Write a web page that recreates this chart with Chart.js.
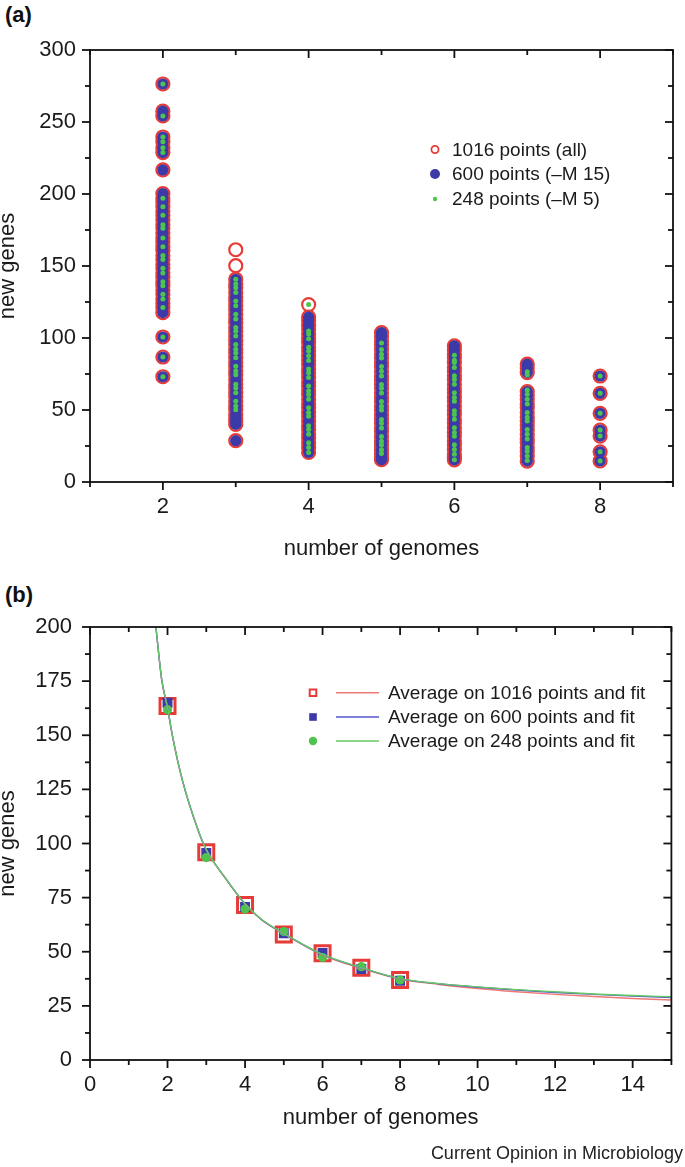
<!DOCTYPE html>
<html><head><meta charset="utf-8">
<script src="https://cdn.jsdelivr.net/npm/chart.js@4.4.1/dist/chart.umd.min.js"></script>
<style>
html,body{margin:0;padding:0;background:#fff;}
body{width:685px;height:1167px;position:relative;overflow:hidden;font-family:"Liberation Sans",Arial,sans-serif;}
canvas{position:absolute;left:0;}
#ca{top:0;}
#cb{top:580px;}
.lab{position:absolute;font-weight:bold;font-size:22px;color:#111;line-height:24px;}
#credit{position:absolute;right:2px;top:1142px;font-size:18px;color:#222;line-height:22px;}
</style></head><body>
<div class="lab" style="left:5px;top:3px">(a)</div>
<div class="lab" style="left:5px;top:583px">(b)</div>
<canvas id="ca" width="685" height="580"></canvas>
<canvas id="cb" width="685" height="587"></canvas>
<div id="credit">Current Opinion in Microbiology</div>
<script>
// ---------- panel (a) data ----------
const genomes = [2, 3, 4, 5, 6, 7, 8];
// new genes per comparison, 600-point subset (one list per genome count)
const new600 = [
  [276.4, 257.5, 254.2, 239.6, 236.3, 232.1, 228.8, 216.7, 200.3, 197.1, 194.6, 191.2, 188.0, 185.3, 182.1, 178.6, 176.2, 172.9, 169.5, 166.8, 163.4, 160.7, 157.3, 154.6, 151.2, 148.5, 145.1, 142.4, 139.0, 136.3, 133.1, 130.4, 127.0, 124.2, 121.1, 117.6, 100.7, 86.8, 73.1],
  [140.8, 137.5, 134.9, 131.6, 128.3, 125.7, 122.4, 119.8, 116.5, 113.2, 110.6, 107.3, 104.7, 101.4, 98.1, 95.5, 92.2, 89.6, 86.3, 83.0, 80.4, 77.1, 74.5, 71.2, 67.9, 65.3, 62.0, 59.4, 56.1, 52.8, 50.2, 46.9, 44.3, 42.0, 40.0, 28.7],
  [114.5, 111.9, 108.6, 106.0, 102.7, 99.4, 96.8, 93.5, 90.9, 87.6, 84.3, 81.7, 78.4, 75.8, 72.5, 69.2, 66.6, 63.3, 60.7, 57.4, 54.1, 51.5, 48.2, 45.6, 42.3, 39.0, 36.4, 33.1, 30.5, 27.2, 23.9, 20.5],
  [103.8, 101.2, 97.9, 95.3, 92.0, 88.7, 86.1, 82.8, 80.2, 76.9, 73.6, 71.0, 67.7, 65.1, 61.8, 58.5, 55.9, 52.6, 50.0, 46.7, 43.4, 40.8, 37.5, 34.9, 31.6, 28.3, 25.7, 22.4, 19.8, 17.4, 15.5],
  [94.6, 92.1, 88.8, 86.2, 82.9, 79.6, 77.0, 73.7, 71.1, 67.8, 64.5, 61.9, 58.6, 56.0, 52.7, 49.4, 46.8, 43.5, 40.9, 37.6, 34.3, 31.7, 28.4, 25.8, 22.5, 19.2, 17.0, 15.4],
  [81.8, 79.1, 76.0, 62.8, 60.2, 57.5, 54.2, 51.6, 48.3, 45.0, 42.4, 39.1, 36.5, 33.2, 29.9, 27.3, 24.0, 21.4, 18.1, 14.5],
  [73.6, 61.6, 47.7, 36.1, 31.9, 21.0, 14.6]
];
// points present only in the full 1016 set
const extra1016 = [[], [161.3, 150.2], [123.2], [], [], [], []];
// 248-point subset
const new248 = [
  [276.4, 254.2, 239.6, 236.3, 232.1, 228.8, 197.1, 191.2, 185.3, 178.6, 176.2, 169.5, 163.4, 157.3, 154.6, 148.5, 145.1, 139.0, 136.3, 130.4, 127.0, 121.1, 100.7, 86.8, 73.1],
  [140.8, 137.5, 134.9, 131.6, 125.7, 122.4, 116.5, 113.2, 107.3, 104.7, 101.4, 95.5, 92.2, 89.6, 86.3, 80.4, 77.1, 74.5, 67.9, 65.3, 62.0, 56.1, 52.8, 50.2],
  [123.2, 104.9, 102.7, 99.4, 93.5, 90.9, 87.6, 84.3, 78.4, 75.8, 72.5, 66.6, 63.3, 60.7, 57.4, 51.5, 48.2, 45.6, 39.0, 36.4, 33.1, 27.2, 23.9, 20.5],
  [96.5, 92.0, 88.7, 86.1, 80.2, 76.9, 73.6, 67.7, 65.1, 61.8, 55.9, 52.6, 50.0, 43.4, 40.8, 37.5, 31.6, 28.3, 25.7, 22.4, 19.8],
  [88.1, 84.6, 82.9, 79.6, 73.7, 71.1, 67.8, 61.9, 58.6, 56.0, 49.4, 46.8, 43.5, 37.6, 34.3, 31.7, 25.8, 22.5, 19.2, 15.4],
  [76.6, 74.3, 63.9, 61.0, 57.5, 54.2, 48.3, 45.0, 42.4, 36.5, 33.2, 29.9, 24.0, 21.4, 18.1, 14.9],
  [73.6, 61.6, 47.7, 36.1, 31.9, 21.0, 14.6]
];
const labelsA = ['1016 points (all)', '600 points (\u2013M 15)', '248 points (\u2013M 5)'];

// ---------- panel (b) data ----------
const avgX = [2, 3, 4, 5, 6, 7, 8];
const avg1016 = [163.5, 96.0, 71.6, 58.0, 49.3, 42.6, 37.0];
const avg600 = [165.0, 95.6, 70.7, 58.5, 49.4, 42.0, 36.6];
const avg248 = [161.8, 93.5, 69.7, 59.3, 47.3, 43.1, 37.0];
const fitX = [1.70, 1.85, 2, 2.13, 2.38, 2.79, 3, 3.49, 4, 4.43, 5, 6, 7, 8, 9, 10, 11, 12, 13, 14, 15];
const fit1016 = [200, 175.5, 162.5, 149.3, 129.3, 106.0, 97.0, 84.0, 72.0, 64.7, 58.3, 48.5, 42.3, 37.4, 34.9, 33.0, 31.5, 30.3, 29.3, 28.4, 27.7];
const fit600 = [200, 175.7, 162.7, 149.5, 129.5, 106.1, 97.1, 84.1, 72.1, 64.8, 58.4, 48.7, 42.6, 37.5, 35.2, 33.6, 32.3, 31.2, 30.3, 29.5, 28.9];
const fit248 = [200, 175.9, 162.9, 149.6, 129.6, 106.2, 97.2, 84.2, 72.2, 64.9, 58.5, 48.8, 42.7, 37.6, 35.3, 33.8, 32.5, 31.5, 30.5, 29.8, 29.2];
const labelsB = ['Average on 1016 points and fit', 'Average on 600 points and fit', 'Average on 248 points and fit'];

// ---------- styles ----------
const RED = '#e63b37', BLUE = '#3b3aa8', GREEN = '#4ec44e';
const LRED = '#ee7a76', LBLUE = '#5656cc', LGREEN = '#66c866';
const FONT = '"Liberation Sans", Arial, Helvetica, sans-serif';

function colPoints(cols) {
  const out = [];
  cols.forEach((vals, i) => vals.forEach(v => out.push({x: genomes[i], y: v})));
  return out;
}
function xyPoints(xs, ys) { return xs.map((x, i) => ({x: x, y: ys[i]})); }
const all1016 = new600.map((c, i) => c.concat(extra1016[i]));

// frame with tick marks (outward on bottom/left, inward on top/right)
function frameTicks(xMinor, xMajor, yMinor, yMajor) {
  return {
    id: 'frameTicks',
    afterDraw(chart) {
      const {ctx, chartArea: a, scales: {x, y}} = chart;
      ctx.save();
      ctx.strokeStyle = '#111';
      ctx.lineWidth = 1.8;
      ctx.strokeRect(a.left, a.top, a.right - a.left, a.bottom - a.top);
      const seg = (x1, y1, x2, y2) => { ctx.beginPath(); ctx.moveTo(x1, y1); ctx.lineTo(x2, y2); ctx.stroke(); };
      const isMajor = (v, m) => Math.abs(v / m - Math.round(v / m)) < 1e-6;
      const nx = Math.round((x.max - x.min) / xMinor);
      for (let i = 0; i <= nx; i++) {
        const v = x.min + i * xMinor;
        const px = x.getPixelForValue(v);
        const L = isMajor(v, xMajor) ? 8 : 5;
        seg(px, a.bottom, px, a.bottom + L);
        seg(px, a.top, px, a.top + L);
      }
      const ny = Math.round((y.max - y.min) / yMinor);
      for (let i = 0; i <= ny; i++) {
        const v = y.min + i * yMinor;
        const py = y.getPixelForValue(v);
        const L = isMajor(v, yMajor) ? 8 : 5;
        seg(a.left - L, py, a.left, py);
        seg(a.right - L, py, a.right, py);
      }
      ctx.restore();
    }
  };
}

// legend drawn inside the plot area
function insideLegend(cfg) {
  return {
    id: 'insideLegend',
    afterDraw(chart) {
      const ctx = chart.ctx;
      ctx.save();
      ctx.font = cfg.fontSize + 'px ' + FONT;
      ctx.textBaseline = 'middle';
      ctx.textAlign = 'left';
      cfg.items.forEach((it, i) => {
        const y = cfg.rows[i];
        const sx = cfg.symbolX;
        ctx.beginPath();
        if (it.shape === 'circle') ctx.arc(sx, y, it.r, 0, Math.PI * 2);
        else ctx.rect(sx - it.r, y - it.r, it.r * 2, it.r * 2);
        ctx.fillStyle = it.fill ? it.fill : '#ffffff';
        ctx.fill();
        if (it.stroke) {
          ctx.strokeStyle = it.stroke;
          ctx.lineWidth = it.lw;
          ctx.stroke();
        }
        if (it.line) {
          ctx.strokeStyle = it.line;
          ctx.lineWidth = 1.4;
          ctx.beginPath();
          ctx.moveTo(cfg.lineFrom, y);
          ctx.lineTo(cfg.lineTo, y);
          ctx.stroke();
        }
        ctx.fillStyle = '#1a1a1a';
        ctx.fillText(it.text, cfg.textX, y + 1);
      });
      ctx.restore();
    }
  };
}

const tickFont = {family: FONT, size: 22};
const titleFont = {family: FONT, size: 22, lineHeight: 1.2};
const yTitleFont = {family: FONT, size: 22, lineHeight: 0.7};

// ---------- chart (a) ----------
new Chart(document.getElementById('ca'), {
  type: 'scatter',
  data: {
    datasets: [
      {label: labelsA[0], data: colPoints(all1016), pointStyle: 'circle', pointRadius: 6.5, borderWidth: 2.2, borderColor: RED, backgroundColor: 'rgba(255,255,255,0)', order: 3},
      {label: labelsA[1], data: colPoints(new600), pointStyle: 'circle', pointRadius: 5.6, borderWidth: 0, backgroundColor: BLUE, borderColor: BLUE, order: 2},
      {label: labelsA[2], data: colPoints(new248), pointStyle: 'circle', pointRadius: 2.5, borderWidth: 0, backgroundColor: GREEN, borderColor: GREEN, order: 1}
    ]
  },
  options: {
    responsive: false, animation: false, events: [],
    layout: {padding: {left: 0, right: 7, top: 50, bottom: 0}},
    plugins: {legend: {display: false}, tooltip: {enabled: false}},
    scales: {
      x: {
        type: 'linear', min: 1, max: 9,
        afterFit: s => { s.height = 98; },
        grid: {display: false, drawTicks: false}, border: {display: false},
        ticks: {stepSize: 1, autoSkip: false, maxRotation: 0, padding: 12, color: '#1a1a1a', font: tickFont,
                callback: v => (v % 2 === 0 ? String(v) : '')},
        title: {display: true, text: 'number of genomes', color: '#1a1a1a', font: titleFont, padding: {top: 0, bottom: 18.3}}
      },
      y: {
        type: 'linear', min: 0, max: 300,
        afterFit: s => { s.width = 90; },
        grid: {display: false, drawTicks: false}, border: {display: false},
        ticks: {stepSize: 25, autoSkip: false, padding: 14, color: '#1a1a1a', font: tickFont,
                callback: v => (v % 50 === 0 ? String(v) : '')},
        title: {display: true, text: 'new genes', color: '#1a1a1a', font: yTitleFont, padding: {top: 0, bottom: 0}}
      }
    }
  },
  plugins: [
    frameTicks(1, 2, 25, 50),
    insideLegend({
      fontSize: 19, symbolX: 435, textX: 452, rows: [149.5, 174, 199],
      items: [
        {shape: 'circle', r: 3.6, stroke: RED, lw: 1.8, text: labelsA[0]},
        {shape: 'circle', r: 5, fill: BLUE, text: labelsA[1]},
        {shape: 'circle', r: 2.2, fill: GREEN, text: labelsA[2]}
      ]
    })
  ]
});

// ---------- chart (b) ----------
const lineDs = (label, ys, color, order) => ({
  label: label, data: xyPoints(fitX, ys), showLine: true, pointRadius: 0, borderWidth: 1.4,
  borderColor: color, backgroundColor: color, cubicInterpolationMode: 'monotone', order: order
});
new Chart(document.getElementById('cb'), {
  type: 'scatter',
  data: {
    datasets: [
      lineDs(labelsB[0] + ' (fit)', fit1016, LRED, 2),
      lineDs(labelsB[1] + ' (fit)', fit600, LBLUE, 1),
      lineDs(labelsB[2] + ' (fit)', fit248, LGREEN, 0),
      {label: labelsB[0], data: xyPoints(avgX, avg1016), pointStyle: 'rect', pointRadius: 10.6, borderWidth: 3, borderColor: RED, backgroundColor: 'rgba(255,255,255,0)', order: 5},
      {label: labelsB[1], data: xyPoints(avgX, avg600), pointStyle: 'rect', pointRadius: 7, borderWidth: 0, borderColor: BLUE, backgroundColor: BLUE, order: 4},
      {label: labelsB[2], data: xyPoints(avgX, avg248), pointStyle: 'circle', pointRadius: 4.6, borderWidth: 0, borderColor: GREEN, backgroundColor: GREEN, order: 3}
    ]
  },
  options: {
    responsive: false, animation: false, events: [],
    layout: {padding: {left: 0, right: 8, top: 47, bottom: 0}},
    plugins: {legend: {display: false}, tooltip: {enabled: false}},
    scales: {
      x: {
        type: 'linear', min: 0, max: 15,
        afterFit: s => { s.height = 107; },
        grid: {display: false, drawTicks: false}, border: {display: false},
        ticks: {stepSize: 1, autoSkip: false, maxRotation: 0, padding: 12, color: '#1a1a1a', font: tickFont,
                callback: v => (v % 2 === 0 ? String(v) : '')},
        title: {display: true, text: 'number of genomes', color: '#1a1a1a', font: titleFont, padding: {top: 0, bottom: 35.8}}
      },
      y: {
        type: 'linear', min: 0, max: 200,
        afterFit: s => { s.width = 90; },
        grid: {display: false, drawTicks: false}, border: {display: false},
        ticks: {stepSize: 12.5, autoSkip: false, padding: 18, color: '#1a1a1a', font: tickFont,
                callback: v => (v % 25 === 0 ? String(v) : '')},
        title: {display: true, text: 'new genes', color: '#1a1a1a', font: yTitleFont, padding: {top: 0, bottom: 0}}
      }
    }
  },
  plugins: [
    frameTicks(1, 2, 12.5, 25),
    insideLegend({
      fontSize: 19, symbolX: 313, textX: 388, lineFrom: 336, lineTo: 379, rows: [112.7, 137, 161],
      items: [
        {shape: 'rect', r: 3.3, stroke: RED, lw: 2, line: LRED, text: labelsB[0]},
        {shape: 'rect', r: 3.8, fill: BLUE, line: LBLUE, text: labelsB[1]},
        {shape: 'circle', r: 4.2, fill: GREEN, line: LGREEN, text: labelsB[2]}
      ]
    })
  ]
});
</script>
</body></html>
